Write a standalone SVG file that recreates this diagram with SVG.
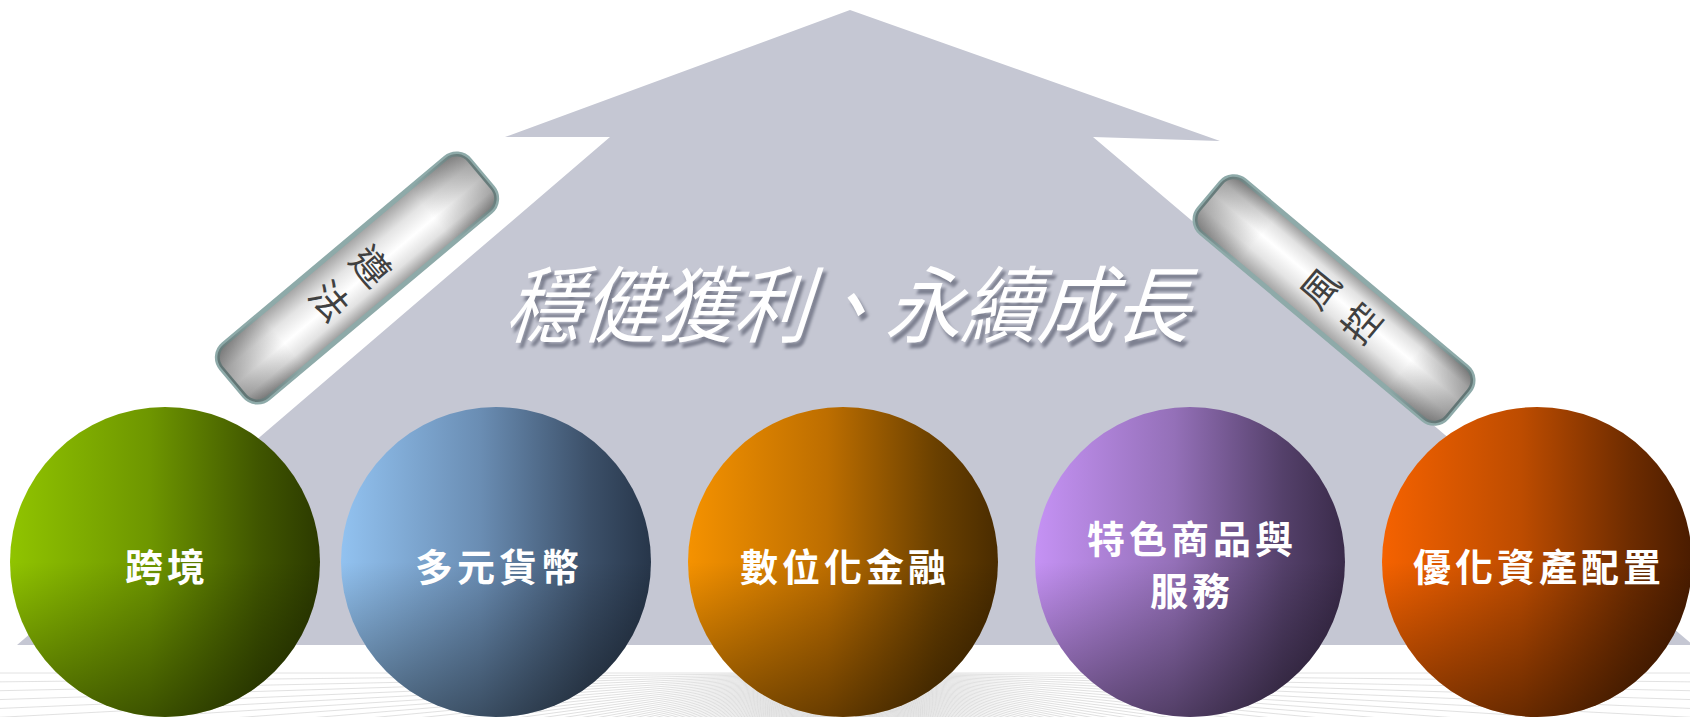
<svg xmlns="http://www.w3.org/2000/svg" xmlns:xlink="http://www.w3.org/1999/xlink" width="1690" height="717" viewBox="0 0 1690 717">
<defs>
<style>
.fl{stroke:#d8d8d8;stroke-width:0.75}
.lbl{font-family:"Noto Sans CJK TC","Noto Sans CJK SC",sans-serif;font-size:38px;font-weight:700;fill:#ffffff;text-anchor:middle;letter-spacing:4px}
.btx{font-family:"Noto Sans CJK TC","Noto Sans CJK SC",sans-serif;font-size:38px;font-weight:400;fill:#404040;text-anchor:middle}
.ttl{font-family:"Noto Sans CJK TC","Noto Sans CJK SC",sans-serif;font-size:76px;font-weight:400;text-anchor:middle}
.bar{stroke:#8eaaa9;stroke-width:5}
</style>
<linearGradient id="g1" x1="0" y1="0" x2="1" y2="0"><stop offset="0" stop-color="#90c400"/><stop offset="0.45" stop-color="#6e9600"/><stop offset="0.8" stop-color="#405600"/><stop offset="1" stop-color="#2c3a00"/></linearGradient>
<linearGradient id="g2" x1="0" y1="0" x2="1" y2="0"><stop offset="0" stop-color="#92c2f0"/><stop offset="0.45" stop-color="#6a8db3"/><stop offset="0.8" stop-color="#3c5069"/><stop offset="1" stop-color="#27364a"/></linearGradient>
<linearGradient id="g3" x1="0" y1="0" x2="1" y2="0"><stop offset="0" stop-color="#f59200"/><stop offset="0.45" stop-color="#bd6e00"/><stop offset="0.8" stop-color="#6a4000"/><stop offset="1" stop-color="#4a2c00"/></linearGradient>
<linearGradient id="g4" x1="0" y1="0" x2="1" y2="0"><stop offset="0" stop-color="#c592f4"/><stop offset="0.45" stop-color="#9470b8"/><stop offset="0.8" stop-color="#54406a"/><stop offset="1" stop-color="#3a2b4a"/></linearGradient>
<linearGradient id="g5" x1="0" y1="0" x2="1" y2="0"><stop offset="0" stop-color="#f56200"/><stop offset="0.45" stop-color="#bd4c00"/><stop offset="0.8" stop-color="#6e2c00"/><stop offset="1" stop-color="#4a1c00"/></linearGradient>
<linearGradient id="shade" x1="0" y1="0" x2="0" y2="1"><stop offset="0" stop-color="#000" stop-opacity="0"/><stop offset="0.5" stop-color="#000" stop-opacity="0"/><stop offset="1" stop-color="#000" stop-opacity="0.45"/></linearGradient>
<linearGradient id="metal" x1="0" y1="0" x2="1" y2="0"><stop offset="0" stop-color="#9e9e9e"/><stop offset="0.3" stop-color="#e4e4e4"/><stop offset="0.55" stop-color="#ffffff"/><stop offset="0.78" stop-color="#e2e2e2"/><stop offset="1" stop-color="#959595"/></linearGradient>
<linearGradient id="metalEnds" x1="0" y1="0" x2="0" y2="1"><stop offset="0" stop-color="#000" stop-opacity="0.28"/><stop offset="0.2" stop-color="#000" stop-opacity="0"/><stop offset="0.8" stop-color="#000" stop-opacity="0"/><stop offset="1" stop-color="#000" stop-opacity="0.32"/></linearGradient>
<filter id="blur" x="-10%" y="-30%" width="120%" height="160%"><feGaussianBlur stdDeviation="1.5"/></filter>
<g id="f0"><line class="fl" x1="845" y1="673" x2="-1500" y2="673"/></g>
<g id="f1"><use href="#f0"/><use href="#f0" transform="rotate(-0.6 845 673)"/></g>
<g id="f2"><use href="#f1"/><use href="#f1" transform="rotate(-1.2 845 673)"/></g>
<g id="f3"><use href="#f2"/><use href="#f2" transform="rotate(-2.4 845 673)"/></g>
<g id="f4"><use href="#f3"/><use href="#f3" transform="rotate(-4.8 845 673)"/></g>
<g id="f5"><use href="#f4"/><use href="#f4" transform="rotate(-9.6 845 673)"/></g>
<g id="f6"><use href="#f5"/><use href="#f5" transform="rotate(-19.2 845 673)"/></g>
<g id="f7"><use href="#f6"/><use href="#f6" transform="rotate(-38.4 845 673)"/></g>
</defs>
<rect width="1690" height="717" fill="#ffffff"/>
<g id="floor">
<use href="#f7"/>
<use href="#f7" transform="translate(1690 0) scale(-1 1)"/>
</g>
<g id="arrow">
<polygon points="850,10 1220,141 1093,137 1693,645 17,645 610,137 505,137" fill="#c5c7d3"/>
</g>
<g id="title" transform="translate(846 336) skewX(-18) scale(1 1.1)">
<text class="ttl" x="5" y="4" fill="#7d8090" filter="url(#blur)">穩健獲利、永續成長</text>
<text class="ttl" x="0" y="0" fill="#ffffff">穩健獲利、永續成長</text>
</g>
<g id="bar-zunfa" transform="translate(357 278) rotate(50)">
<rect class="bar" x="-35" y="-162" width="70" height="324" rx="17" fill="url(#metal)"/>
<rect x="-35" y="-162" width="70" height="324" rx="17" fill="url(#metalEnds)"/>
<text class="btx" x="0" y="-4">遵</text>
<text class="btx" x="0" y="50">法</text>
</g>
<g id="bar-fengkong" transform="translate(1334 300) rotate(-50)">
<rect class="bar" x="-34" y="-162" width="68" height="324" rx="17" fill="url(#metal)"/>
<rect x="-34" y="-162" width="68" height="324" rx="17" fill="url(#metalEnds)"/>
<text class="btx" x="0" y="-4">風</text>
<text class="btx" x="0" y="50">控</text>
</g>
<g id="ball-kuajing">
<circle cx="165" cy="562" r="155" fill="url(#g1)"/>
<circle cx="165" cy="562" r="155" fill="url(#shade)"/>
<text class="lbl" x="167" y="581">跨境</text>
</g>
<g id="ball-duoyuan">
<circle cx="496" cy="562" r="155" fill="url(#g2)"/>
<circle cx="496" cy="562" r="155" fill="url(#shade)"/>
<text class="lbl" x="499" y="581">多元貨幣</text>
</g>
<g id="ball-shuwei">
<circle cx="843" cy="562" r="155" fill="url(#g3)"/>
<circle cx="843" cy="562" r="155" fill="url(#shade)"/>
<text class="lbl" x="845" y="581">數位化金融</text>
</g>
<g id="ball-tese">
<circle cx="1190" cy="562" r="155" fill="url(#g4)"/>
<circle cx="1190" cy="562" r="155" fill="url(#shade)"/>
<text class="lbl" x="1192" y="553">特色商品與</text>
<text class="lbl" x="1192" y="605">服務</text>
</g>
<g id="ball-youhua">
<circle cx="1537" cy="562" r="155" fill="url(#g5)"/>
<circle cx="1537" cy="562" r="155" fill="url(#shade)"/>
<text class="lbl" x="1539" y="581">優化資產配置</text>
</g>
</svg>
